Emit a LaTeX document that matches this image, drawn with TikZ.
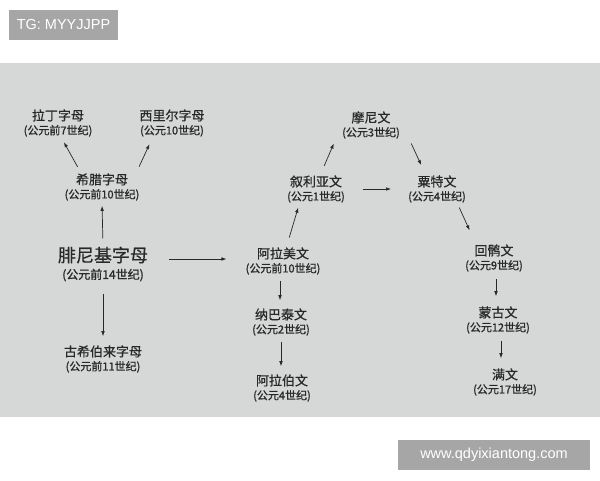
\documentclass[tikz,border=0pt]{standalone}
\usepackage{fontspec}
\usepackage{xcolor}
\usetikzlibrary{arrows.meta}
\newfontfamily\cjk[FakeBold=0.6]{Noto Sans CJK SC}
\newfontfamily\cjkera[FakeBold=1.2]{Noto Sans CJK SC}
\newfontfamily\wmfont{Liberation Sans}
\definecolor{paper}{RGB}{214,216,215}
\definecolor{ink}{RGB}{40,40,40}
\definecolor{wmgray}{RGB}{166,166,166}
\newcommand{\era}[1]{{\cjkera\fontsize{11}{12}\selectfont #1}}
\newcommand{\bigera}[1]{{\cjkera\fontsize{12}{13}\selectfont #1}}

\begin{document}
\begin{tikzpicture}[x=1pt, y=-1pt,
  script/.style={text=ink, align=center, inner sep=2pt, font=\cjk\fontsize{13}{14}\selectfont},
  bigscript/.style={script, font=\cjk\fontsize{18}{17}\selectfont},
  arr/.style={ink, line width=0.7pt, -{Latex[length=5pt,width=3.6pt]}},
  wmark/.style={fill=wmgray, text=white, font=\wmfont\fontsize{14.5}{16}\selectfont, inner sep=0pt}]
  \useasboundingbox (0,0) rectangle (600,480);
  % photographed page
  \fill[paper] (0,63) rectangle (600,417);
  % watermarks
  \node[wmark, minimum width=109pt, minimum height=30pt] (tg) at (63.5,25) {TG: MYYJJPP};
  \node[wmark, minimum width=192pt, minimum height=30pt] (site) at (494,455) {www.qdyixiantong.com};
  % scripts
  \node[script] (latin) at (58,123) {拉丁字母\\\era{(公元前7世纪)}};
  \node[script] (cyrillic) at (172,123) {西里尔字母\\\era{(公元10世纪)}};
  \node[script] (greek) at (102,187) {希腊字母\\\era{(公元前10世纪)}};
  \node[bigscript] (phoenician) at (103,264) {腓尼基字母\\\bigera{(公元前14世纪)}};
  \node[script] (hebrew) at (103,359) {古希伯来字母\\\era{(公元前11世纪)}};
  \node[script] (aramaic) at (283,261) {阿拉美文\\\era{(公元前10世纪)}};
  \node[script] (nabataean) at (281,322) {纳巴泰文\\\era{(公元2世纪)}};
  \node[script] (arabic) at (282,388) {阿拉伯文\\\era{(公元4世纪)}};
  \node[script] (syriac) at (316,189) {叙利亚文\\\era{(公元1世纪)}};
  \node[script] (manichaean) at (371,125) {摩尼文\\\era{(公元3世纪)}};
  \node[script] (sogdian) at (437,189) {粟特文\\\era{(公元4世纪)}};
  \node[script] (uyghur) at (494,258) {回鹘文\\\era{(公元9世纪)}};
  \node[script] (mongolian) at (498,320) {蒙古文\\\era{(公元12世纪)}};
  \node[script] (manchu) at (505,382) {满文\\\era{(公元17世纪)}};
  % descent
  \draw[arr, shorten <=5pt, shorten >=4pt] ([xshift=-22pt]greek.north) -- ([xshift=4pt]latin.south);
  \draw[arr, shorten <=5pt, shorten >=6pt] ([xshift=35pt]greek.north) -- ([xshift=-20pt]cyrillic.south);
  \draw[arr, shorten <=6pt, shorten >=3pt] (phoenician.north) -- (greek.south);
  \draw[arr, shorten <=10pt, shorten >=7pt] (phoenician.south) -- (hebrew.north);
  \draw[arr, shorten <=19pt, shorten >=17pt] ([yshift=5pt]phoenician.east) -- ([yshift=5pt]phoenician.east -| aramaic.west);
  \draw[arr, shorten <=8pt, shorten >=3pt] ([xshift=4pt]aramaic.north) -- ([xshift=-17pt]syriac.south);
  \draw[arr, shorten <=4pt, shorten >=6pt] ([xshift=-3pt]aramaic.south) -- ([xshift=-1pt]nabataean.north);
  \draw[arr, shorten <=4pt, shorten >=6pt] (nabataean.south) -- (nabataean.south |- arabic.north);
  \draw[arr, shorten <=8pt, shorten >=3pt] ([xshift=5pt]syriac.north) -- ([xshift=-36pt]manichaean.south);
  \draw[arr, shorten <=16pt, shorten >=15pt] (syriac.east) -- (syriac.east -| sogdian.west);
  \draw[arr, shorten <=3pt, shorten >=9pt] ([xshift=39pt]manichaean.south) -- ([xshift=-12pt]sogdian.north);
  \draw[arr, shorten <=3pt, shorten >=13pt] ([xshift=21pt]sogdian.south) -- ([xshift=-19pt]uyghur.north);
  \draw[arr, shorten <=5pt, shorten >=8pt] ([xshift=2pt]uyghur.south) -- ([xshift=-2pt]mongolian.north);
  \draw[arr, shorten <=5pt, shorten >=8pt] ([xshift=3pt]mongolian.south) -- ([xshift=-4pt]manchu.north);
\end{tikzpicture}
\end{document}
